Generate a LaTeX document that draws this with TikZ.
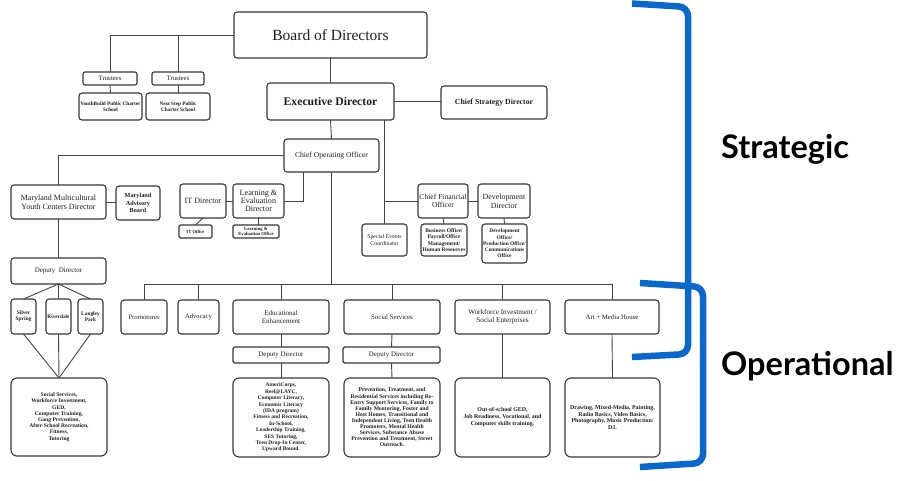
\documentclass[tikz,border=0pt]{standalone}
\usepackage{fontspec}
\setmainfont{Liberation Serif}
\newfontfamily\latofont{Lato}
\definecolor{bblue}{RGB}{10,104,204}
\definecolor{lnc}{RGB}{68,68,68}
\definecolor{bxc}{RGB}{55,55,55}
\newcommand\orgfs[2]{\fontsize{#1}{#2}\selectfont}
\newcommand\orgbox[7][]{\node[box,minimum width={(#5-#3)*1pt},minimum height={(#6-#4)*1pt},#1] (#2) at ({(#3+#5)/2},{(#4+#6)/2}) {#7};}
\tikzset{
  box/.style={draw=bxc, line width=1.1pt, rounded corners=3pt, fill=white, inner sep=0.5pt, outer sep=0pt, align=center, text=black!88},
  conn/.style={draw=lnc, line width=0.9pt},
  brace/.style={draw=bblue, line width=6.5pt, rounded corners=9pt},
  tier/.style={font=\latofont\bfseries\fontsize{32.5}{38}\selectfont, anchor=base west, inner sep=0pt, text=black}
}
\begin{document}
\begin{tikzpicture}[x=1pt,y=-1pt]
\fill[white] (0,0) rectangle (900,481);
\useasboundingbox (0,0) rectangle (900,481);
% strategic level
\orgbox[font=\orgfs{15.5}{18}]{board}{234}{12}{427}{58}{Board of Directors}
\orgbox[font=\orgfs{11.7}{14}\bfseries]{exec}{267}{83}{394}{120}{Executive Director}
\orgbox[font=\orgfs{7.8}{9}\bfseries]{csd}{441}{86}{547}{119}{Chief Strategy Director}
\orgbox[font=\orgfs{6.8}{8},rounded corners=2pt]{tr1}{83}{72}{137}{85}{Trustees}
\orgbox[font=\orgfs{6.8}{8},rounded corners=2pt]{tr2}{152}{72}{204}{85}{Trustees}
\orgbox[font=\orgfs{5.2}{6.2}\bfseries]{yb}{79}{93}{142}{120}{YouthBuild Public Charter\\School}
\orgbox[font=\orgfs{5.2}{6.2}\bfseries]{ns}{146}{93}{210}{120}{Next Step Public\\Charter School}
\orgbox[font=\orgfs{7.6}{9}]{coo}{284}{139}{379}{172}{Chief Operating Officer}
\orgbox[font=\orgfs{8}{9}]{mmyc}{11}{185}{106}{219}{Maryland Multicultural\\Youth Centers Director}
\orgbox[font=\orgfs{6.2}{7.4}\bfseries]{mab}{116}{186}{160}{220}{Maryland\\Advisory\\Board}
\orgbox[font=\orgfs{8.1}{9}]{itd}{180}{184}{226}{218}{IT Director}
\orgbox[font=\orgfs{8.1}{8.3}]{led}{233}{184}{284}{218}{Learning \&\\Evaluation\\Director}
\orgbox[font=\orgfs{4.6}{5.5}\bfseries,rounded corners=1.5pt]{itoff}{179}{225}{212}{238}{IT Office}
\orgbox[font=\orgfs{4.7}{5.2}\bfseries,rounded corners=1.5pt]{ledoff}{233}{225}{279}{238}{Learning \&\\Evaluation Office}
\orgbox[font=\orgfs{5.8}{6.4}]{spec}{362}{224}{407}{256}{Special Events\\Coordinator}
\orgbox[font=\orgfs{7.6}{8.6}]{cfo}{418}{184}{468}{218}{Chief Financial\\Officer}
\orgbox[font=\orgfs{7.9}{8.8}]{dev}{478}{184}{530}{218}{Development\\Director}
\orgbox[font=\orgfs{5.5}{6.2}\bfseries]{biz}{421}{224}{467}{256}{Business Office/\\Payroll/Office\\Management/\\Human Resources}
\orgbox[font=\orgfs{5.4}{6.3}\bfseries]{devoff}{482}{224}{527}{263}{Development\\Office/\\Production Office/\\Communications\\Office}
% left branch
\orgbox[font=\orgfs{7}{8}]{dep}{11}{258}{106}{284}{Deputy\ \ Director}
\orgbox[font=\orgfs{5.4}{6.2}\bfseries]{sil}{11}{299}{36}{334}{Silver\\Spring}
\orgbox[font=\orgfs{5.3}{6.2}\bfseries]{riv}{46}{299}{71}{334}{Riverdale}
\orgbox[font=\orgfs{5.4}{6.2}\bfseries]{lan}{78}{299}{103}{334}{Langley\\Park}
\orgbox[font=\orgfs{5.6}{6.2}\bfseries,rounded corners=6pt]{leftc}{11}{378}{107}{456}{Social Services,\\Workforce Investment,\\GED,\\Computer Training,\\Gang Prevention,\\After-School Recreation,\\Fitness,\\Tutoring}
% operational row
\orgbox[font=\orgfs{6.8}{8}]{prom}{121}{300}{167}{334}{Promotores}
\orgbox[font=\orgfs{6.6}{8}]{adv}{178}{300}{219}{334}{Advocacy}
\orgbox[font=\orgfs{7}{8}]{ee}{233}{300}{329}{334}{Educational\\Enhancement}
\orgbox[font=\orgfs{6.8}{8}]{ss}{344}{300}{440}{334}{Social Services}
\orgbox[font=\orgfs{7.2}{8.2}]{wf}{455}{300}{550}{334}{Workforce Investment /\\Social Enterprises}
\orgbox[font=\orgfs{6.8}{8}]{art}{565}{300}{659}{334}{Art + Media House}
\orgbox[font=\orgfs{6.9}{8},rounded corners=1.5pt]{depee}{233}{347}{329}{363}{Deputy Director}
\orgbox[font=\orgfs{6.9}{8},rounded corners=1.5pt]{depss}{343}{347}{440}{363}{Deputy Director}
\orgbox[font=\orgfs{5.5}{6.4}\bfseries,rounded corners=6pt]{eec}{233}{378}{329}{457}{AmeriCorps,\\Reel@LAYC,\\Computer Literacy,\\Economic Literacy\\(IDA program)\\Fitness and Recreation,\\In-School,\\Leadership Training,\\SES Tutoring,\\Teen Drop-In Center,\\Upward Bound.}
\orgbox[font=\orgfs{5.7}{6.1}\bfseries,rounded corners=6pt]{ssc}{344}{378}{440}{457}{Prevention, Treatment, and\\Residential Services including Re-\\Entry Support Services, Family to\\Family Mentoring, Foster and\\Host Homes, Transitional and\\Independent Living, Teen Health\\Promoters, Mental Health\\Services, Substance Abuse\\Prevention and Treatment, Street\\Outreach.}
\orgbox[font=\orgfs{5.9}{7}\bfseries,rounded corners=6pt]{wfc}{455}{378}{550}{457}{Out-of-school GED,\\Job Readiness, Vocational, and\\Computer skills training.}
\orgbox[font=\orgfs{5.9}{6.4}\bfseries,rounded corners=6pt]{artc}{565}{378}{660}{457}{Drawing, Mixed-Media, Painting,\\Radio Basics, Video Basics,\\Photography, Music Production/\\DJ.}
% connectors
\draw[conn] (board.south) -- (exec.north);
\draw[conn] (board.west) -| (tr1.north);
\draw[conn] (tr2.north) -- (tr2.north |- board.west);
\draw[conn] (tr1.south) -- (yb.north);
\draw[conn] (tr2.south) -- (ns.north);
\draw[conn] (exec.east) -- (exec.east -| csd.west);
\draw[conn] (exec.south) -- (coo.north);
\draw[conn] (spec.north |- exec.south) -- (spec.north);
\draw[conn] (cfo.west) -- (cfo.west -| spec.north);
\draw[conn] (cfo.east) -- (dev.west);
\draw[conn] (cfo.south) -- (biz.north);
\draw[conn] (dev.south) -- (devoff.north);
\draw[conn] (coo.west) -| (mmyc.north);
\draw[conn] (mmyc.east) -- (mmyc.east -| mab.west);
\draw[conn] (mmyc.south) -- (dep.north);
\draw[conn] ([xshift=-28.5pt]coo.south) |- (led.east);
\draw[conn] (itd.east) -- (led.west);
\draw[conn] (itd.south) -- (itoff.north);
\draw[conn] (led.south) -- (led.south |- ledoff.north);
\draw[conn] (prom.north) -- ++(0,-16) coordinate (busL) -| (art.north);
\draw[conn] (coo.south) -- (coo.south |- busL);
\draw[conn] (adv.north) -- (adv.north |- busL);
\draw[conn] (ee.north) -- (ee.north |- busL);
\draw[conn] (ss.north) -- (ss.north |- busL);
\draw[conn] (wf.north) -- (wf.north |- busL);
\draw[conn] (dep.south) -- (sil.north);
\draw[conn] (dep.south) -- (riv.north);
\draw[conn] (dep.south) -- (lan.north);
\draw[conn] (sil.south) -- (leftc.north);
\draw[conn] (riv.south) -- (leftc.north);
\draw[conn] (lan.south) -- (leftc.north);
\draw[conn] (ee.south) -- (depee.north);
\draw[conn] (depee.south) -- (eec.north);
\draw[conn] (ss.south) -- (depss.north);
\draw[conn] (depss.south) -- (ssc.north);
\draw[conn] (wf.south) -- (wfc.north);
\draw[conn] (art.south) -- (artc.north);
% brackets
\draw[brace] (632,3.5) -- (688,7) -- (688,354) -- (632,357);
\draw[brace] (640,283) -- (703,287) -- (703,463) -- (640,467);
\node[tier] (strat) at (721,159) {Strategic};
\node[tier] (oper) at (721,375) {Operational};
\end{tikzpicture}
\end{document}
